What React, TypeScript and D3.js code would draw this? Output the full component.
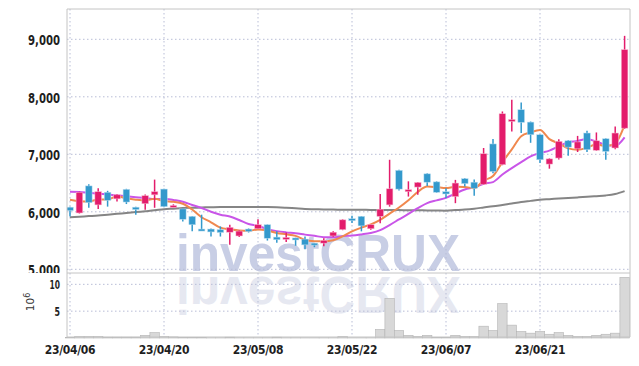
import React from "react";
import * as d3 from "d3";

const dates = [
  "23/04/06","23/04/07","23/04/10","23/04/11","23/04/12","23/04/13","23/04/14","23/04/17","23/04/18","23/04/19",
  "23/04/20","23/04/21","23/04/24","23/04/25","23/04/26","23/04/27","23/04/28","23/05/02","23/05/03","23/05/04",
  "23/05/08","23/05/09","23/05/10","23/05/11","23/05/12","23/05/15","23/05/16","23/05/17","23/05/18","23/05/19",
  "23/05/22","23/05/23","23/05/24","23/05/25","23/05/26","23/05/30","23/05/31","23/06/01","23/06/02","23/06/05",
  "23/06/07","23/06/08","23/06/09","23/06/12","23/06/13","23/06/14","23/06/15","23/06/16","23/06/19","23/06/20",
  "23/06/21","23/06/22","23/06/23","23/06/26","23/06/27","23/06/28","23/06/29","23/06/30","23/07/03","23/07/04",
];
const tickDates = ["23/04/06","23/04/20","23/05/08","23/05/22","23/06/07","23/06/21"];

const opens = [
  6080,5980,6450,6120,6340,6225,6390,6080,6140,6295,
  6395,6095,6050,5920,5700,5700,5690,5645,5580,5700,
  5705,5775,5560,5545,5545,5525,5455,5455,5580,5690,
  5880,5920,5705,5920,6120,6720,6365,6430,6660,6520,
  6350,6265,6575,6515,6480,7180,6820,7590,7775,7560,
  7340,6830,6935,7235,7095,7370,7070,7270,7110,7455,
];
const highs = [
  6090,6350,6480,6410,6365,6310,6400,6090,6300,6560,
  6400,6130,6060,5925,5950,5710,5745,5775,5680,5710,
  5870,5780,5660,5640,5550,5570,5460,5540,5660,5870,
  5930,5925,5780,6310,6905,6730,6530,6520,6670,6530,
  6410,6555,6590,6560,7110,7265,7745,7950,7900,7570,
  7350,6930,7260,7250,7320,7410,7380,7280,7485,9060,
];
const lows = [
  5920,5970,6070,6050,6090,6180,6135,5950,6035,6070,
  6080,6080,5830,5660,5680,5570,5570,5425,5560,5640,
  5700,5500,5460,5475,5410,5350,5385,5400,5560,5680,
  5805,5660,5690,5800,6090,6370,6265,6295,6450,6330,
  6240,6150,6440,6280,6470,6670,6810,7395,7370,7200,
  6850,6750,6910,6975,7040,7040,7060,6905,7090,7440,
];
const closes = [
  6020,6340,6160,6350,6200,6295,6170,6040,6280,6350,
  6090,6110,5870,5775,5685,5650,5640,5730,5665,5660,
  5775,5540,5515,5555,5525,5425,5425,5500,5645,5860,
  5865,5755,5775,6045,6400,6395,6385,6510,6515,6340,
  6310,6500,6490,6410,7010,6700,7705,7605,7555,7340,
  6905,6920,7225,7125,7215,7080,7235,7050,7370,8820,
];
const ma5 = [
  6210,6185,6180,6215,6214,6269,6235,6211,6197,6227,
  6186,6174,6140,6039,5906,5818,5724,5696,5674,5669,
  5694,5674,5631,5609,5582,5512,5489,5486,5504,5571,
  5659,5725,5780,5860,5968,6074,6200,6347,6441,6429,
  6412,6435,6431,6410,6544,6622,6863,7086,7315,7381,
  7422,7265,7189,7103,7078,7113,7176,7141,7190,7511,
];
const ma10 = [
  6350,6345,6330,6315,6300,6285,6270,6255,6240,6221,
  6228,6205,6176,6118,6067,6002,5949,5918,5857,5788,
  5756,5699,5664,5642,5626,5603,5582,5559,5557,5577,
  5586,5607,5633,5682,5770,5867,5963,6064,6151,6199,
  6243,6318,6389,6426,6487,6517,6649,6759,6863,6963,
  7022,7064,7138,7209,7230,7268,7221,7165,7147,7295,
];
const ma60 = [
  5905,5915,5925,5935,5950,5965,5980,5995,6010,6025,
  6045,6055,6065,6070,6075,6080,6082,6084,6085,6085,
  6085,6083,6078,6070,6060,6050,6045,6040,6038,6036,
  6035,6034,6033,6032,6031,6030,6028,6026,6024,6022,
  6020,6030,6040,6055,6075,6095,6120,6145,6170,6190,
  6210,6220,6230,6240,6250,6260,6272,6285,6310,6360,
];
const volumes = [
  0.1,0.3,0.3,0.3,0.15,0.15,0.15,0.15,0.5,1.0,
  0.3,0.2,0.1,0.1,0.1,0.05,0.05,0.15,0.05,0.05,
  0.05,0.05,0.15,0.05,0.05,0.05,0.05,0.05,0.05,0.3,
  0.05,0.05,0.05,1.6,7.4,1.4,0.5,0.3,0.5,0.1,
  0.1,0.5,0.3,0.3,2.2,1.4,6.4,2.4,1.2,0.9,
  1.2,0.7,1.0,0.5,0.3,0.3,0.5,0.7,0.9,11.3,
];
const priceTicks = [5000, 6000, 7000, 8000, 9000];
const volumeTicks = [5, 10];

const W = 639, H = 366;
const LEFT = 67, RIGHT = 630, TOP = 9, SEP = 273, BOTTOM = 337;
const UP = "#e31c6b", DOWN = "#3399cc";
const labelFont = "'DejaVu Sans Condensed', 'DejaVu Sans', sans-serif";

export default function App() {
  const x = d3.scaleBand<string>().domain(dates).range([65.3, 629.3]).padding(0);
  const cx = (d: string) => (x(d) as number) + x.bandwidth() / 2;
  const y = d3.scaleLinear().domain([5000, 9000]).range([269.3, 39.3]);
  const yv = d3.scaleLinear().domain([0, 12.3]).range([338, 272]);
  const bodyW = x.bandwidth() * 0.7;

  const line = (vals: number[]) =>
    d3.line<number>().x((_, i) => cx(dates[i])).y((v) => y(v)).curve(d3.curveMonotoneX)(vals) as string;

  return (
    <svg width={W} height={H} style={{ position: "absolute", left: 0, top: 0, background: "#fff" }}>
      <defs>
        <clipPath id="price"><rect x={LEFT} y={TOP} width={RIGHT - LEFT} height={SEP - TOP} /></clipPath>
        <clipPath id="labels"><rect x={0} y={0} width={LEFT} height={SEP} /></clipPath>
        <clipPath id="refl"><rect x={LEFT} y={SEP + 1.5} width={RIGHT - LEFT} height={44} /></clipPath>
      </defs>
      {/* watermark */}
      <text x={176} y={271} fontFamily="'Liberation Sans', Arial, sans-serif" fontWeight="bold" fontSize={52}
        fill="#c8cee5" textLength={284} lengthAdjust="spacingAndGlyphs" clipPath="url(#price)">investCRUX</text>
      <g clipPath="url(#refl)">
        <text x={176} y={-277} transform="scale(1,-1)" fontFamily="'Liberation Sans', Arial, sans-serif" fontWeight="bold" fontSize={52}
          fill="#e6e8f1" textLength={284} lengthAdjust="spacingAndGlyphs">investCRUX</text>
      </g>
      {/* grid */}
      {priceTicks.map((t) => (
        <line key={"hp" + t} x1={LEFT} x2={RIGHT} y1={y(t)} y2={y(t)} stroke="#b8bdd6" strokeDasharray="1.5,2.5" strokeWidth={1} />
      ))}
      {volumeTicks.map((t) => (
        <line key={"hv" + t} x1={LEFT} x2={RIGHT} y1={yv(t)} y2={yv(t)} stroke="#b8bdd6" strokeDasharray="1.5,2.5" strokeWidth={1} />
      ))}
      {tickDates.map((d) => (
        <line key={"v" + d} x1={cx(d)} x2={cx(d)} y1={TOP} y2={BOTTOM} stroke="#b8bdd6" strokeDasharray="1.5,2.5" strokeWidth={1} />
      ))}
      {/* volume */}
      {volumes.map((v, i) => (
        <rect key={"vol" + i} x={x(dates[i]) as number} width={x.bandwidth()} y={yv(v)} height={yv(0) - yv(v)}
          fill="#d8d8d8" stroke="#b4b4b4" strokeWidth={0.6} />
      ))}
      {/* moving averages */}
      <g clipPath="url(#price)" fill="none">
        <path d={line(ma60)} stroke="#858585" strokeWidth={2} />
        <path d={line(ma10)} stroke="#c955e8" strokeWidth={2} />
        <path d={line(ma5)} stroke="#f0884e" strokeWidth={2} />
      </g>
      {/* candles */}
      <g clipPath="url(#price)">
        {dates.map((d, i) => {
          const up = closes[i] >= opens[i];
          const c = up ? UP : DOWN;
          const top = y(Math.max(opens[i], closes[i]));
          const bot = y(Math.min(opens[i], closes[i]));
          return (
            <g key={"c" + i}>
              <line x1={cx(d)} x2={cx(d)} y1={y(highs[i])} y2={y(lows[i])} stroke={c} strokeWidth={1.5} />
              <rect x={cx(d) - bodyW / 2} width={bodyW} y={top} height={Math.max(bot - top, 2)} fill={c}
                stroke={up ? "#f7b9d0" : "#b5dbef"} strokeWidth={0.5} />
            </g>
          );
        })}
      </g>
      {/* frame */}
      <g stroke="#c4c4c4" strokeWidth={1} fill="none">
        <line x1={LEFT} x2={LEFT} y1={TOP} y2={BOTTOM} />
        <line x1={RIGHT} x2={RIGHT} y1={TOP} y2={BOTTOM} />
        <line x1={LEFT} x2={RIGHT} y1={TOP} y2={TOP} />
        <line x1={LEFT} x2={RIGHT} y1={SEP} y2={SEP} />
        <line x1={LEFT} x2={RIGHT} y1={BOTTOM} y2={BOTTOM} />
      </g>
      {/* axis labels */}
      <g clipPath="url(#labels)">
        {priceTicks.map((t) => (
          <text key={"pl" + t} x={28} y={y(t) + 6} fontFamily={labelFont} fontWeight="bold" fontSize={14.5} fill="#1e1e1e"
            textLength={32} lengthAdjust="spacingAndGlyphs">
            {d3.format(",")(t)}
          </text>
        ))}
      </g>
      {volumeTicks.map((t) => (
        <text key={"vl" + t} x={60} y={yv(t) + 4.5} textAnchor="end" fontFamily={labelFont} fontWeight="bold" fontSize={12.5} fill="#1e1e1e"
          textLength={t >= 10 ? 10.5 : 5.5} lengthAdjust="spacingAndGlyphs">
          {t}
        </text>
      ))}
      <text transform="translate(33.5,302) rotate(-90)" textAnchor="middle" fontFamily="'DejaVu Sans', sans-serif" fontSize={10.5} fill="#333">
        10<tspan dy={-4} fontSize={8}>6</tspan>
      </text>
      {tickDates.map((d) => (
        <text key={"dl" + d} x={cx(d)} y={353.5} textAnchor="middle" fontFamily="'DejaVu Sans Condensed', 'DejaVu Sans', sans-serif"
          fontWeight="bold" fontSize={12} fill="#1e1e1e" letterSpacing={-0.3}>
          {d}
        </text>
      ))}
    </svg>
  );
}
